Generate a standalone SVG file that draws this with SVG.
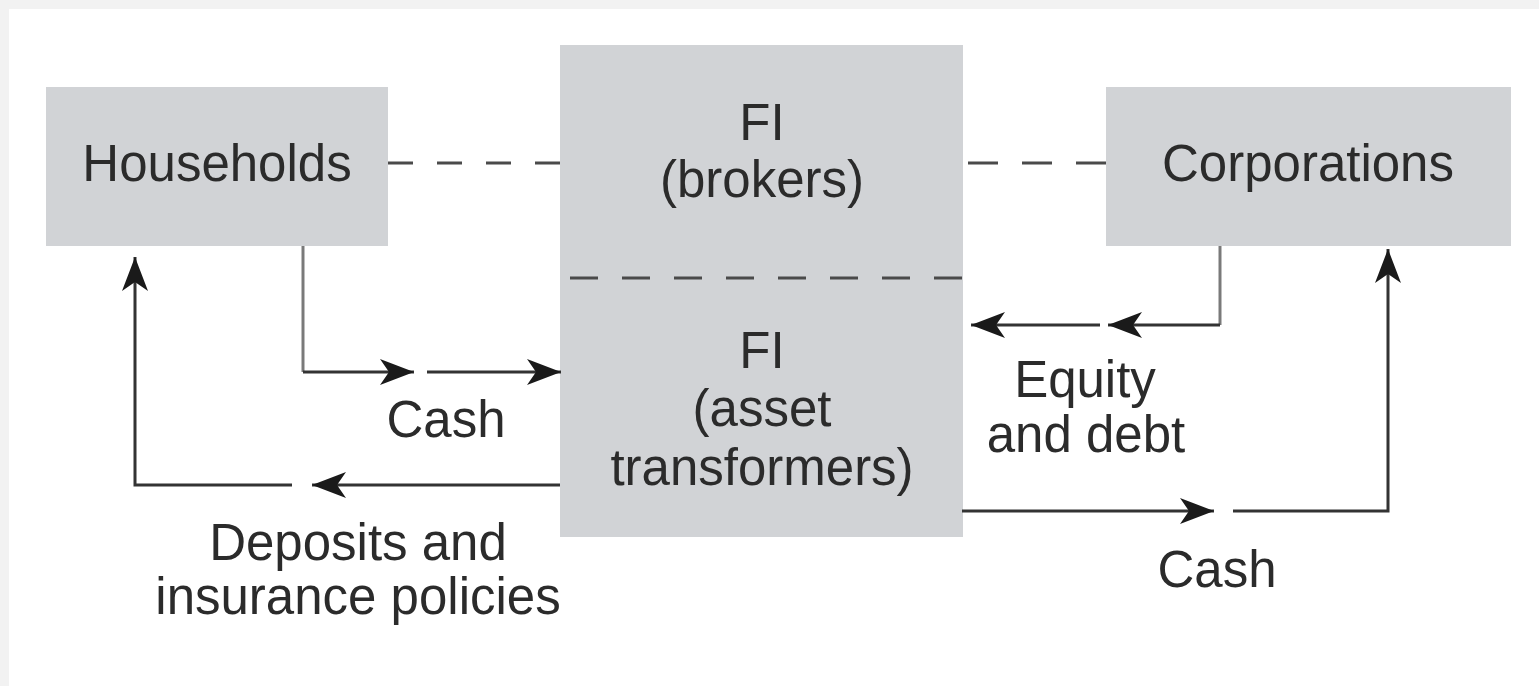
<svg xmlns="http://www.w3.org/2000/svg" width="1539" height="686" viewBox="0 0 1539 686">
<style>
.box{fill:#d1d3d6}
.t{font-family:"Liberation Sans",Arial,sans-serif;font-size:51px;fill:#2b2b2b;text-anchor:middle}
.ln{fill:none;stroke:#333333;stroke-width:3}
.lg{fill:none;stroke:#7a7a7a;stroke-width:3}
.dash{fill:none;stroke:#4a4a4a;stroke-width:3}
</style>
<defs>
<marker id="ah" markerUnits="userSpaceOnUse" markerWidth="36" markerHeight="30" refX="34" refY="14" orient="auto" viewBox="0 0 36 28">
<path d="M0,1 L34,14 L0,27 L9,14 Z" fill="#1a1a1a"/>
</marker>
</defs>
<rect x="0" y="0" width="1539" height="686" fill="#f2f2f2"/>
<rect x="9" y="9" width="1530" height="677" fill="#ffffff"/>
<g id="households">
<rect class="box" x="46" y="87" width="342" height="159"/>
<text class="t" x="217" y="181">Households</text>
</g>
<g id="fi-brokers">
<rect class="box" x="560" y="45" width="403" height="233"/>
<text class="t" x="762" y="140">FI</text>
<text class="t" x="762" y="197">(brokers)</text>
</g>
<g id="fi-asset-transformers">
<rect class="box" x="560" y="278" width="403" height="259"/>
<text class="t" x="762" y="368">FI</text>
<text class="t" x="762" y="426">(asset</text>
<text class="t" x="762" y="485">transformers)</text>
</g>
<g id="corporations">
<rect class="box" x="1106" y="87" width="405" height="159"/>
<text class="t" x="1308" y="181">Corporations</text>
</g>
<g id="connectors">
<path class="dash" d="M388,163 H560" stroke-dasharray="25,24"/>
<path class="dash" d="M968,163 H1106" stroke-dasharray="30,24"/>
<path class="dash" d="M570,278 H962" stroke-dasharray="28,24"/>
<path class="lg" d="M303,246 V372"/>
<path class="ln" d="M303,372 H414" marker-end="url(#ah)"/>
<path class="ln" d="M427,372 H561" marker-end="url(#ah)"/>
<path class="ln" d="M560,485 H312" marker-end="url(#ah)"/>
<path class="ln" d="M292,485 H135 V257" marker-end="url(#ah)"/>
<path class="lg" d="M1220,246 V325"/>
<path class="ln" d="M1220,325 H1108" marker-end="url(#ah)"/>
<path class="ln" d="M1100,325 H971" marker-end="url(#ah)"/>
<path class="ln" d="M962,511 H1214" marker-end="url(#ah)"/>
<path class="ln" d="M1233,511 H1388 V249" marker-end="url(#ah)"/>
</g>
<g id="labels">
<text class="t" x="446" y="437">Cash</text>
<text class="t" x="358" y="560">Deposits and</text>
<text class="t" x="358" y="614">insurance policies</text>
<text class="t" x="1085" y="397">Equity</text>
<text class="t" x="1086" y="452">and debt</text>
<text class="t" x="1217" y="587">Cash</text>
</g>
</svg>
